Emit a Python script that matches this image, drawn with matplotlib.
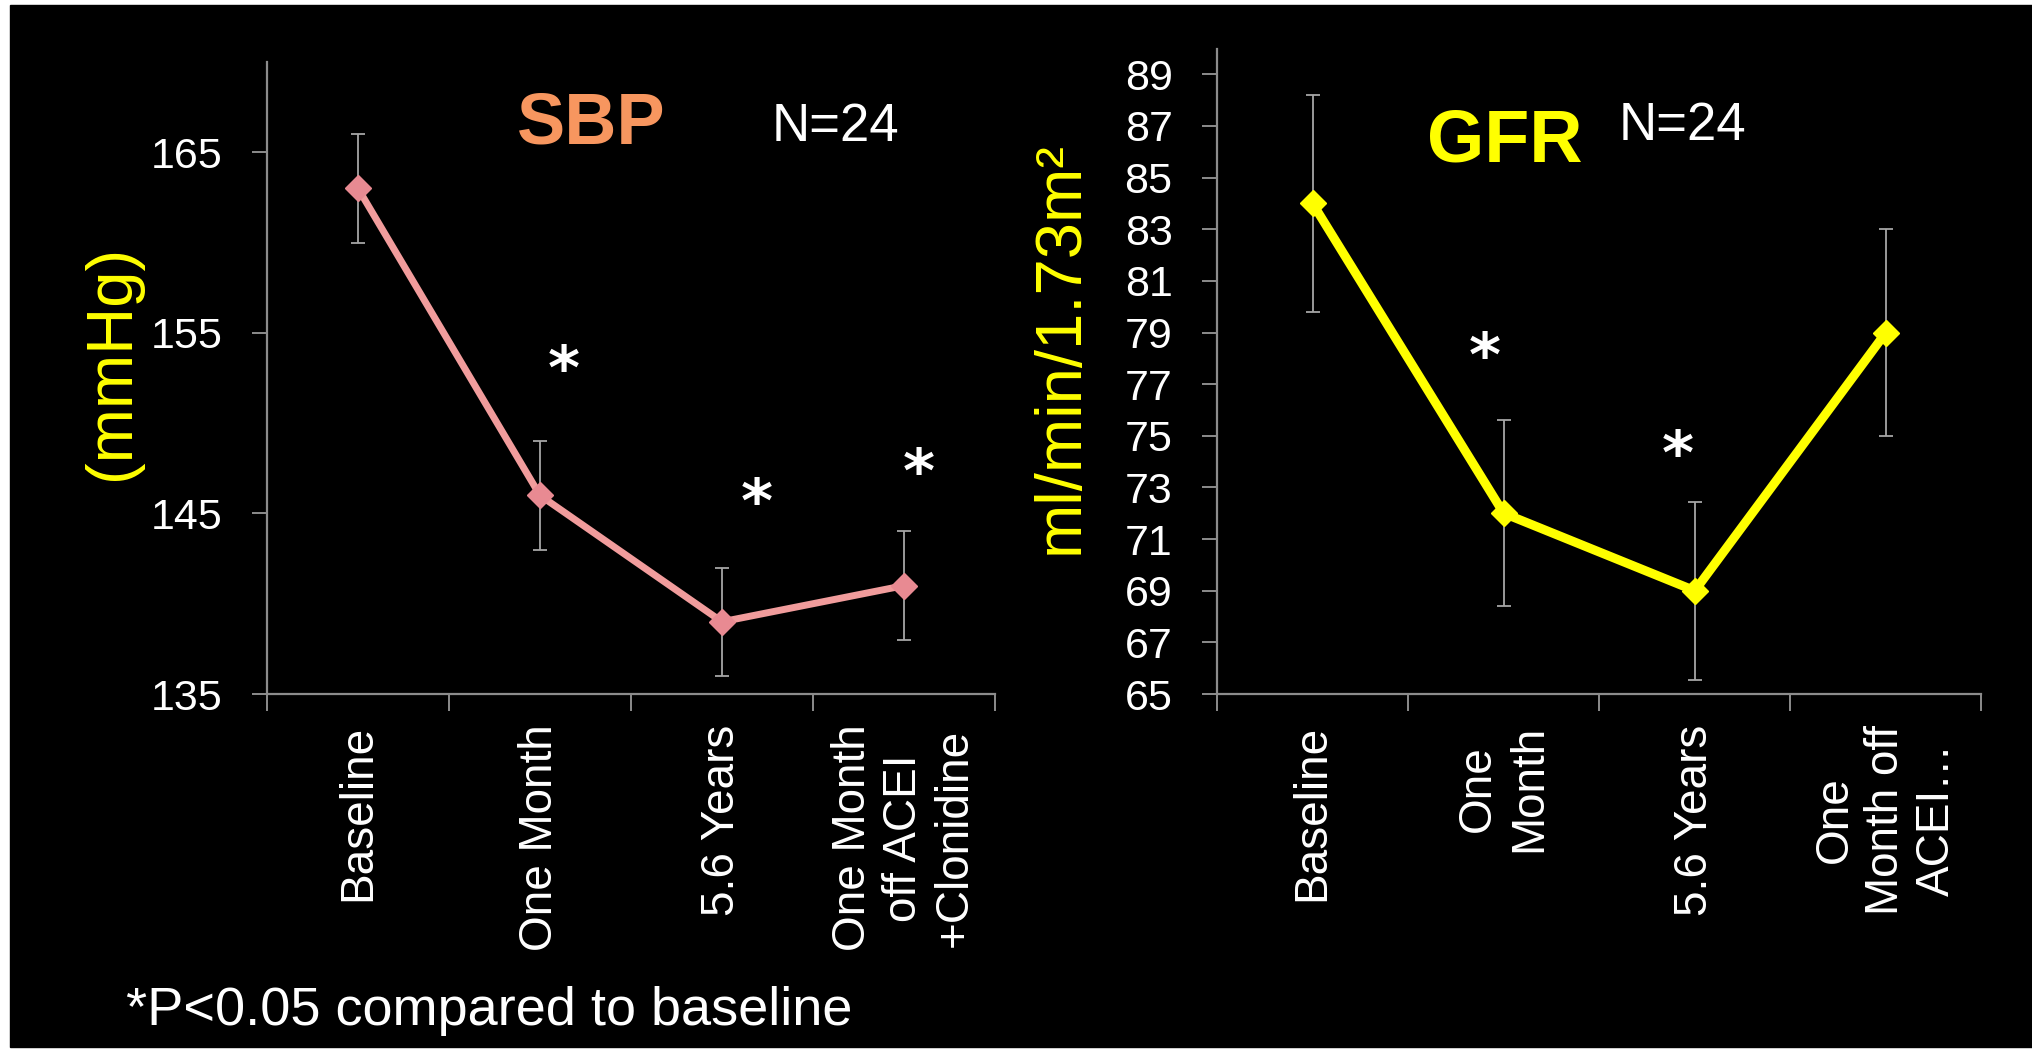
import matplotlib
matplotlib.use("Agg")
import matplotlib.pyplot as plt
import matplotlib.ticker as mticker
from matplotlib.patches import Rectangle
import numpy as np

W, H = 2033, 1057

# ── data ──
sbp_labels = ["Baseline", "One Month", "5.6 Years", "One Month\noff ACEI\n+Clonidine"]
sbp_mean = [163, 146, 139, 141]
sbp_err = [3, 3, 3, 3]
sbp_ticks = [135, 145, 155, 165]

gfr_labels = ["Baseline", "One\nMonth", "5.6 Years", "One\nMonth off\nACEI\u2026"]
gfr_mean = [84, 72, 69, 79]
gfr_err = [4.2, 3.6, 3.45, 4.0]
gfr_ticks = list(range(65, 90, 2))

# significance marks (category units, axis units)
sbp_star_x = [1.63, 2.69, 3.58]
sbp_star_y = [153.9, 146.5, 148.2]
gfr_star_x = [1.40, 2.41]
gfr_star_y = [78.7, 74.9]

SANS = ["Liberation Sans", "DejaVu Sans"]
GREY = "#8c8c8c"

plt.rcParams["font.family"] = SANS

fig = plt.figure(figsize=(W / 100, H / 100), dpi=100, facecolor="white")
fig.patches.append(Rectangle((10 / W, 10 / H), 1 - 10 / W, 1 - 15 / H,
                             transform=fig.transFigure, color="black", zorder=-10))


def panel(rect, labels, mean, err, ylim, ticks, line_color, marker_color, lw,
          star_x, star_y):
    ax = fig.add_axes(rect)
    ax.set_facecolor("black")
    xs = np.arange(len(mean)) + 0.5
    ax.errorbar(xs, mean, yerr=err, fmt="none", ecolor="#a6a6a6",
                elinewidth=1.3, capsize=5, capthick=1.3, zorder=2)
    ax.plot(xs, mean, color=line_color, lw=lw, marker="D", markersize=13.5,
            markerfacecolor=marker_color, markeredgecolor=marker_color,
            zorder=3, clip_on=False)
    ax.set_xlim(0, len(mean))
    ax.set_ylim(*ylim)

    for s in ("top", "right"):
        ax.spines[s].set_visible(False)
    for s in ("left", "bottom"):
        ax.spines[s].set_color(GREY)
        ax.spines[s].set_linewidth(1.6)

    ax.xaxis.set_major_locator(mticker.FixedLocator(np.arange(len(mean) + 1)))
    ax.xaxis.set_major_formatter(mticker.NullFormatter())
    ax.xaxis.set_minor_locator(mticker.FixedLocator(xs))
    ax.xaxis.set_minor_formatter(mticker.FixedFormatter(labels))
    ax.tick_params(axis="x", which="major", length=12, width=1.4, color=GREY)
    ax.tick_params(axis="x", which="minor", length=0, pad=22)
    for t in ax.get_xticklabels(minor=True):
        t.set_rotation(90)
        t.set_ha("center")
        t.set_va("top")
        t.set_multialignment("center")
        t.set_fontsize(33)
        t.set_color("white")

    ax.set_yticks(ticks)
    ax.tick_params(axis="y", length=11, width=1.4, color=GREY, pad=21,
                   labelcolor="white", labelsize=31)

    fs = 44
    for x, y in zip(star_x, star_y):
        ax.annotate("*", xy=(x, y), xytext=(0, -0.59 * fs),
                    textcoords="offset points", ha="center", va="baseline",
                    fontsize=fs, color="white", family="DejaVu Sans",
                    fontweight="bold")
    return ax


panel([267 / W, 363 / H, 728 / W, 632 / H], sbp_labels, sbp_mean, sbp_err,
      (135, 170), sbp_ticks, "#f19c9c", "#e88a92", 5.0, sbp_star_x, sbp_star_y)
panel([1217 / W, 363 / H, 764.5 / W, 645.5 / H], gfr_labels, gfr_mean, gfr_err,
      (65, 90), gfr_ticks, "#ffff00", "#ffff00", 6.5, gfr_star_x, gfr_star_y)

# titles and axis captions
fig.text(591 / W, 1 - 144 / H, "SBP", color="#f7965f", fontsize=52,
         fontweight="bold", ha="center", va="baseline")
fig.text(835 / W, 1 - 141 / H, "N=24", color="white", fontsize=38,
         ha="center", va="baseline")
fig.text(1505 / W, 1 - 162 / H, "GFR", color="#ffff00", fontsize=53,
         fontweight="bold", ha="center", va="baseline")
fig.text(1682 / W, 1 - 140 / H, "N=24", color="white", fontsize=38,
         ha="center", va="baseline")

fig.text(112 / W, 1 - 362 / H, "(mmHg)", color="#ffff00", fontsize=47,
         rotation=90, ha="center", va="center")
fig.text(1061 / W, 1 - 347 / H, "ml/min/1.73m\u00b2", color="#ffff00",
         fontsize=47, rotation=90, ha="center", va="center")

fig.text(126 / W, 1 - 1025 / H, "*P<0.05 compared to baseline", color="white",
         fontsize=39, ha="left", va="baseline")

fig.savefig("out.png", dpi=100, facecolor=fig.get_facecolor())
